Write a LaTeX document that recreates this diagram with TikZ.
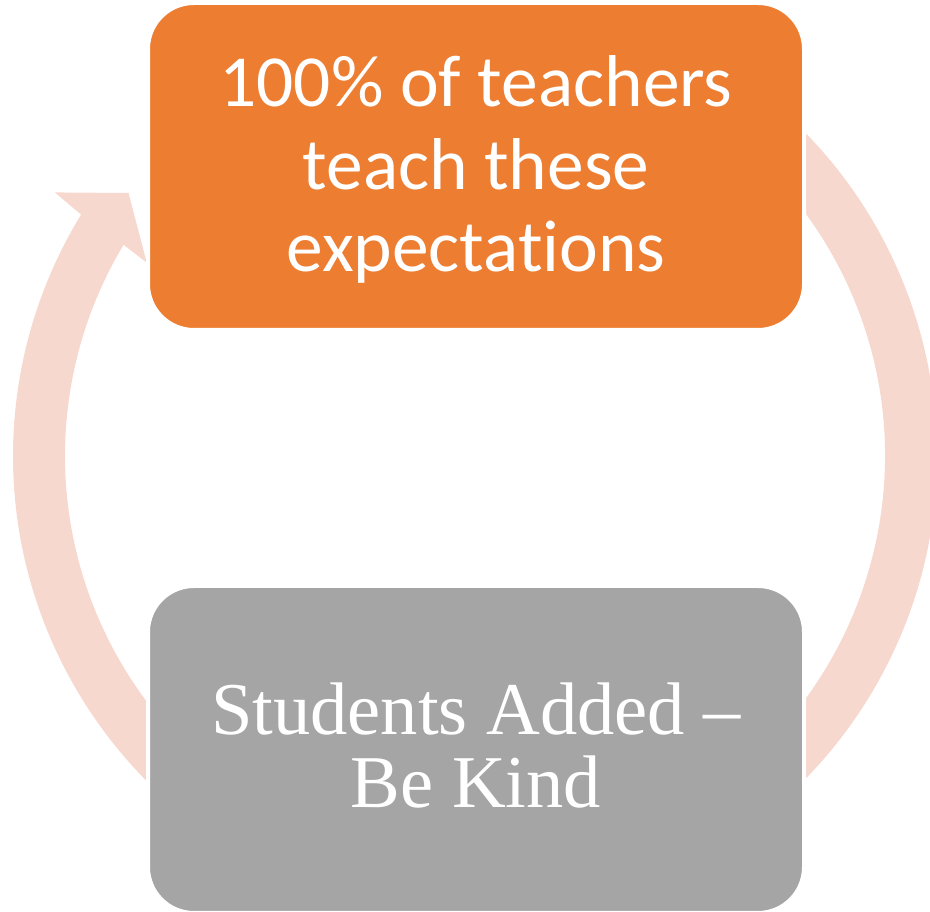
\documentclass[tikz,border=0pt]{standalone}
\usepackage{fontspec}
\newfontfamily\carlito[Ligatures=CommonOff]{Carlito}
\newfontfamily\timesfont{Liberation Serif}
\definecolor{accentorange}{HTML}{ED7D31}
\definecolor{accentgray}{HTML}{A5A5A5}
\definecolor{cyclepink}{HTML}{F7D8CE}

\begin{document}
\begin{tikzpicture}[x=1pt,y=1pt,
  box/.style={rectangle, rounded corners=46pt, draw=white, line width=4pt,
    minimum width=656pt, minimum height=327pt, inner sep=0pt},
  boxtext/.style={text=white, align=center, inner sep=0pt}]
\useasboundingbox (0,0) rectangle (930,912);
\coordinate (hub) at (475,456);

% cycle arcs, the boxes cover their ends
\begin{scope}[shift={(hub)}]
\fill[cyclepink] (60:462) arc[start angle=60, end angle=-60, radius=462]
  -- (-60:410) arc[start angle=-60, end angle=60, radius=410] -- cycle;
\fill[cyclepink] (240:462) arc[start angle=240, end angle=148.5, radius=462]
  -- (147.9:496) -- (142.8:435) -- (149.5:381)
  -- (149:410) arc[start angle=149, end angle=240, radius=410] -- cycle;
\end{scope}

\node[box, fill=accentorange] (teach) at (476,745.5) {};
\node[box, fill=accentgray] (added) at (476,162.5) {};

\node[boxtext, font=\carlito\fontsize{73.4}{82.5}\selectfont] (teachtext)
  at ([yshift=-3pt]teach.center) {100\% of teachers\\teach these\\expectations};
\node[boxtext, font=\timesfont\fontsize{74.5}{73}\selectfont] (addedtext)
  at ([yshift=3.5pt]added.center) {Students Added –\\Be Kind};
\end{tikzpicture}
\end{document}
